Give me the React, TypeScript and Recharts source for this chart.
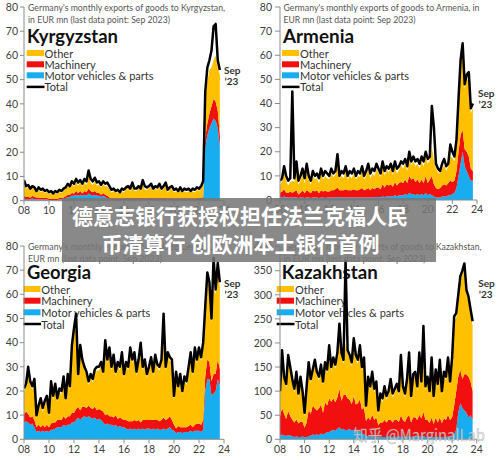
import React from "react";
import { ComposedChart, Area, Line, XAxis, YAxis } from "recharts";

// time axis: bimonthly observations from Jan 2008 to Sep 2023
const START_YEAR = 2008;
const STEP_MONTHS = 2;

const xTicks = [2008, 2010, 2012, 2014, 2016, 2018, 2020, 2022, 2024];
const xTickLabels = ["08", "10", "12", "14", "16", "18", "20", "22", "24"];
const smallTicks = [0, 10, 20, 30, 40, 50, 60, 70, 80];
const kzTicks = [0, 50, 100, 150, 200, 250, 300, 350, 400];

const seriesNames = ["Other", "Machinery", "Motor vehicles & parts", "Total"];
const COLORS = { other: "#FFC000", machinery: "#F20F0F", motor: "#18ADEE", total: "#000000" };

// ---------------- Kyrgyzstan ----------------
const kgTotal = [8.5,6,6.5,5,6,5.5, 4,5.5,4.5,5,4,4.5, 3.5,4,3,4,3.5,4.5, 4,5,5.5,7,6,8, 7,9,7.5,8.5,7,9, 8,12.5,9,8,9.5,7.5, 8,6.5,8,7,7.5,6, 4.5,5,4,4.5,3.5,5, 4.5,5.5,6,5,7.5,5, 5,6,5,8.5,6,5.5, 6,7,5,6,5.5,7, 5,6,7.5,4.5,5.5,6, 4.5,5,4,5.5,4,5, 4.5,5,4,5,4.5,5.5, 5,6,8,45,55,58, 62,72,73,58,54];
const kgMotor = [1,0.5,0.5,0.5,1,0.5, 0.5,0.5,0.5,0.5,0.5,0.5, 0.3,0.3,0.3,0.3,0.3,0.5, 0.5,0.5,1,1.5,1.5,2, 2,2.5,2,2.5,2,2.5, 2,3,2.5,2,2.5,2, 2,1.5,2,1.5,1,0.5, 0.3,0.3,0.4,0.3,0.3,0.3, 0.4,0.3,0.5,0.3,0.4,0.3, 0.4,0.3,0.5,0.3,0.4,0.3, 0.4,0.3,0.5,0.3,0.4,0.3, 0.4,0.3,0.5,0.3,0.4,0.3, 0.4,0.3,0.4,0.3,0.4,0.3, 0.4,0.3,0.4,0.3,0.4,0.3, 0.3,0.3,0.5,22,27,30, 32,34,33,30,22];
const kgMachinery = [1,1,1,0.8,1,1, 0.8,0.8,0.6,0.6,0.6,0.6, 0.5,0.5,0.5,0.5,0.5,0.6, 0.6,0.8,0.8,1,1,1.2, 1,1.5,1.2,1.5,1,1.5, 1.5,2,1.5,1.5,1.5,1.2, 1.2,1,1.2,1,1,0.8, 0.6,0.6,0.6,0.6,0.6,0.6, 0.6,0.7,0.8,0.6,0.8,0.7, 0.7,0.8,0.6,0.9,0.7,0.6, 0.7,0.8,0.6,0.7,0.6,0.8, 0.6,0.7,0.8,0.5,0.6,0.7, 0.5,0.6,0.5,0.6,0.5,0.6, 0.5,0.6,0.5,0.6,0.5,0.7, 0.8,0.8,1,4,5,6, 7,8,8,7,5];
const kgOther = [5,3.5,4,3,3.5,3, 2,3,2.5,3,2,2.5, 2,2.5,1.5,2.5,2,2.5, 2,3,3,3.5,3,3.5, 3,3.5,3,3.5,3,3.5, 3,5,3.5,3,4,3, 3.5,3,3.5,3.5,4,3.5, 2.5,3,2.5,2.5,2,3, 2.5,3.5,4,3,4.5,3, 3,4,3,5.5,3.5,3.5, 4,4.5,3,4,3.5,4.5, 3,4,5,2.5,3.5,4, 2.5,3,2.5,3.5,2.5,3, 2.5,3,2.5,3,2.5,3.5, 3,4,5,16,17,18, 16,16,19,18,25];

// ---------------- Armenia ----------------
const amTotal = [8,9,14,10,8,9, 45,9,16,8,10,13, 9,15,10,8,12,10, 11,9,13,10,12,11, 10,13,11,12,19,10, 12,11,14,10,12,11, 13,10,12,11,14,10, 12,15,11,13,12,15, 13,11,16,12,14,13, 15,12,16,13,14,16, 15,17,14,20,16,18, 16,17,15,18,16,20, 17,18,39,30,15,13, 12,15,17,14,15,23, 20,18,25,42,58,65, 48,52,53,38,40];
const amMotor = [1,1,1.5,1,1,1, 1,1,1,0.8,1,1, 0.8,1,1,0.8,1,1, 1,0.8,1,1,0.8,1, 1,1,1,1,1.2,1, 1,1,1,1,1,1, 1,1,1,1,1,1, 1,1,1,1,1,1.2, 1.2,1,1.5,1.2,1.5,1.5, 1.5,1.5,2,1.5,2,2, 2,2.5,2,3,2.5,2.5, 2,2.5,2,2.5,2,3, 2,2.5,2,1.5,1,1, 1,1.5,1.5,1.5,2,2, 2.5,3,5,10,15,20, 14,12,10,8,8];
const amMachinery = [2,2.5,3,2,2,2.5, 2,2.5,3,1.5,2,3, 2,3,2.5,2,3,2.5, 3,2,3,2.5,3,2.5, 2.5,3,3,3.5,4,3, 3,3,3.5,3,3,3, 3.5,3,3,3.5,4,3, 3.5,4,3,4,3.5,4, 4,3.5,5,4,5,4.5, 5,4,5.5,4.5,5,5.5, 5,6,5,7,6,6.5, 5.5,6,5,6,5,7, 5,6,8,5,4,3.5, 4,4.5,5,4.5,5,6, 5,5,7,10,12,9, 7,8,8,5,4];
const amOther = [3,4.5,7.5,5,3,4, 5,4,9,4,5,7, 4,8,5,3.5,6,5, 5,4,7,5,6,5.5, 5,7,5.5,6,10,5, 6,5,7.5,4.5,6,5, 6.5,4.5,6,5,7,4.5, 5.5,8,5,6,5.5,7.5, 6,5,7.5,5,6,5.5, 6.5,5,6.5,5,5.5,7, 6,6.5,5,8,6,7, 6.5,6.5,6,7.5,7,8, 8,8,12,10,8,7, 6,7,8,6,7,10, 10,8,11,20,28,32, 25,30,32,23,26];

// ---------------- Georgia ----------------
const geTotal = [21,23,30,24,22,25, 10,14,17,13,16,18, 11,24,18,23,17,21, 20,26,17,27,22,39, 46,52,27,39,33,30, 28,24,27,25,29,30, 30,32,28,41,33,38, 30,35,28,32,30,36, 27,32,30,38,33,36, 28,33,40,30,33,27, 30,34,28,35,31,30, 33,52,30,36,34,33, 18,28,22,27,20,26, 24,30,36,28,38,33, 38,34,40,55,69,65, 50,75,62,73,65];
const geMotor = [7,7.5,7,6,6.5,5, 3,3.5,3,3.5,3,3.5, 3,4,4,4.5,5,5, 5,6,5.5,6,6,7, 7,8,9,8,9,9.5, 9,9.5,9,8.5,9,8, 8.5,8,7,6,6.5,6, 6,5.5,6,5,5.5,5, 5,4.5,4,4.5,4,4.5, 4,4.5,4,4.5,4,4.5, 4.5,4,4.5,4,4.5,4, 4,4.5,4,4.5,5,4, 3.5,2.5,3,3,2.5,3, 3,3,3.5,3,3.5,3.5, 3.5,3,4,20,25,25, 18,19,20,25,22];
const geMachinery = [3.5,4,3.5,3,3,3, 2,2.5,2,2.5,2,2.5, 2,2.5,3,2.5,3,3, 3,3.5,3,3.5,3.5,4, 4,4.5,4.5,4,4.5,4, 4,4.5,4,4,4.5,4, 4,4,4.5,4,4,3.5, 3.5,3.5,4,3.5,3.5,3.5, 3,3.5,3.5,3,3.5,3.5, 3.5,3.5,3,3.5,4,3.5, 3.5,4,3.5,4,3.5,3.5, 4,4.5,4,4,4.5,4, 2.5,2,2.5,2,2.5,2, 2,2.5,2.5,2,2.5,3, 3,3,4,6,8,7, 6,8,7,8,7];
const geOther = [9,10,18,13.5,11,15.5, 3.5,6.5,10.5,5.5,9.5,10.5, 4.5,16,9.5,14.5,7.5,11.5, 10.5,15,7,16,11,26.5, 33.5,33,12,25.5,18,15, 13.5,8.5,12.5,11,14,16.5, 16,18.5,15,29.5,21,27, 19,24.5,16.5,22,19.5,26, 17.5,22.5,21,29,24,26.5, 19,23.5,31.5,20.5,23.5,17.5, 20.5,24.5,18.5,25.5,21.5,21, 23.5,30,20.5,26,23,23.5, 10.5,22,15,20.5,13.5,19.5, 17.5,23,28.5,21.5,30.5,25, 30,26.5,30.5,27.5,34,31, 24,36,33,38,34];

// ---------------- Kazakhstan ----------------
const kzTotal = [100,185,130,115,175,150, 125,105,140,95,130,100, 55,110,160,125,145,165, 140,130,155,120,160,145, 195,150,170,155,180,240, 180,165,370,185,175,160, 210,175,165,195,150,170, 70,130,110,140,105,120, 60,95,85,110,90,100, 125,95,105,115,100,175, 110,95,125,180,90,135, 140,110,180,120,235,110, 130,100,170,90,145,115, 165,100,140,130,170,120, 170,255,262,300,338,350, 365,310,296,270,245];
const kzMotor = [8,10,8,7,9,8, 6,5,6,5,5,6, 4,5,6,8,10,9, 10,9,12,10,12,15, 15,18,20,17,22,25, 20,22,18,20,22,18, 20,17,15,18,12,10, 8,6,5,6,5,5, 4,5,5,5,5,6, 5,5,6,5,6,5, 5,6,5,6,5,6, 6,5,6,5,7,5, 5,4,5,4,5,5, 5,4,5,5,6,5, 6,10,20,55,75,65, 60,55,45,50,40];
const kzMachinery = [40,55,45,35,50,40, 35,30,35,28,32,30, 20,30,55,45,60,55, 50,55,60,45,65,55, 70,60,65,60,65,80, 60,70,75,65,60,55, 70,55,60,65,50,55, 30,40,35,45,35,40, 25,30,30,35,30,35, 35,30,35,35,30,45, 35,30,40,45,30,40, 40,35,45,38,50,35, 35,30,40,28,40,30, 40,30,38,35,45,35, 40,60,80,75,70,60, 75,80,85,70,60];
const kzOther = [44,112,69,65,108,94, 76,62,91,54,85,56, 23,67,91,64,67,93, 72,58,75,57,75,67, 102,64,77,70,85,100, 92,65,107,92,85,79, 112,95,82,104,80,97, 24,76,62,81,57,67, 23,52,42,62,47,51, 77,52,56,67,56,117, 62,51,72,121,47,81, 86,62,121,69,170,62, 82,58,117,50,92,72, 112,58,89,82,111,72, 116,175,152,160,183,215, 220,165,156,140,135];

function buildData(motor: number[], machinery: number[], other: number[], total: number[]) {
  return total.map((t, i) => ({
    x: START_YEAR + (i * STEP_MONTHS) / 12,
    motor: motor[i],
    machinery: machinery[i],
    other: other[i],
    total: t,
  }));
}

const tickLabel = (v: number) => {
  const idx = xTicks.indexOf(v);
  return idx >= 0 ? xTickLabels[idx] : "";
};

type PanelProps = {
  data: any[];
  left: number;
  top: number;
  plotLeft: number;
  plotRight: number;
  plotTop: number;
  plotBottom: number;
  yMax: number;
  yTicks: number[];
  ySize: number;
  yMargin: number;
};

function Panel(p: PanelProps) {
  const W = 250;
  const H = 230;
  const xH = 20;
  const tickStyle = { fontSize: 10.5, fill: "#404040", fontFamily: "Lato, 'Open Sans', sans-serif" };
  return (
    <div style={{ position: "absolute", left: p.left, top: p.top, width: W, height: H, zIndex: 1 }}>
      <ComposedChart
        width={W}
        height={H}
        data={p.data}
        margin={{ top: p.plotTop, right: W - p.plotRight, bottom: H - p.plotBottom - xH, left: 0 }}
      >
        <XAxis
          type="number"
          dataKey="x"
          domain={[2008, 2024]}
          ticks={xTicks}
          interval={0}
          tickFormatter={tickLabel}
          height={xH}
          tick={tickStyle}
          tickSize={4}
          tickMargin={2}
          stroke="#8c8c8c"
          allowDataOverflow
        />
        <YAxis
          type="number"
          domain={[0, p.yMax]}
          ticks={p.yTicks}
          interval={0}
          width={p.plotLeft}
          tick={tickStyle}
          tickSize={p.ySize}
          tickMargin={p.yMargin}
          stroke="#8c8c8c"
          allowDataOverflow
        />
        <Area type="linear" dataKey="motor" stackId="s" fill={COLORS.motor} stroke="none" fillOpacity={1} isAnimationActive={false} />
        <Area type="linear" dataKey="machinery" stackId="s" fill={COLORS.machinery} stroke="none" fillOpacity={1} isAnimationActive={false} />
        <Area type="linear" dataKey="other" stackId="s" fill={COLORS.other} stroke="none" fillOpacity={1} isAnimationActive={false} />
        <Line type="linear" dataKey="total" stroke={COLORS.total} strokeWidth={2.5} strokeLinejoin="round" dot={false} isAnimationActive={false} />
      </ComposedChart>
    </div>
  );
}

type TextBlock = {
  line1: string;
  line2: string;
  l1: number;
  l2: number;
  tx: number;
  ty1: number;
  ty2: number;
  name: string;
  nameLen: number;
  nameX: number;
  nameBase: number;
  swX: number;
  swW: number;
  labX: number;
  legY: number[];
  sepX: number;
  sepY: number;
};

const blocks: TextBlock[] = [
  {
    line1: "Germany's monthly exports of goods to Kyrgyzstan,", l1: 197,
    line2: "in EUR mn (last data point: Sep 2023)", l2: 142,
    tx: 28, ty1: 7.5, ty2: 19.5,
    name: "Kyrgyzstan", nameLen: 91, nameX: 27, nameBase: 43,
    swX: 26.7, swW: 17.3, labX: 44.5, legY: [53, 64.3, 75.3, 86.9],
    sepX: 224, sepY: 70,
  },
  {
    line1: "Germany's monthly exports of goods to Armenia, in", l1: 196,
    line2: "EUR mn (last data point: Sep 2023)", l2: 132,
    tx: 283.5, ty1: 7.5, ty2: 19.5,
    name: "Armenia", nameLen: 71, nameX: 283, nameBase: 43,
    swX: 282, swW: 17, labX: 300, legY: [53, 64.3, 75.3, 86.9],
    sepX: 478, sepY: 93.3,
  },
  {
    line1: "Germany's monthly exports of goods to Georgia, in", l1: 194,
    line2: "EUR mn (last data point: Sep 2023)", l2: 134,
    tx: 28, ty1: 246.5, ty2: 258,
    name: "Georgia", nameLen: 64, nameX: 27, nameBase: 279,
    swX: 23.5, swW: 17, labX: 41.3, legY: [289, 300.7, 312.3, 324],
    sepX: 224, sepY: 283.3,
  },
  {
    line1: "Germany's monthly exports of goods to Kazakhstan,", l1: 198,
    line2: "in EUR mn (last data point: Sep 2023)", l2: 142,
    tx: 283.5, ty1: 246.7, ty2: 258,
    name: "Kazakhstan", nameLen: 96, nameX: 281.7, nameBase: 279,
    swX: 276.7, swW: 17.3, labX: 295, legY: [289, 300.7, 312.3, 324],
    sepX: 478.3, sepY: 283.3,
  },
];

const legendColors = [COLORS.other, COLORS.machinery, COLORS.motor];
const FONT = "Lato, 'Open Sans', sans-serif";

function TextLayer() {
  return (
    <svg width={500} height={460} style={{ position: "absolute", left: 0, top: 0, zIndex: 0 }}>
      {blocks.map((b, k) => (
        <g key={k} fontFamily={FONT}>
          <text x={b.tx} y={b.ty1} fontSize={9.5} fill="#555" dominantBaseline="central" textLength={b.l1} lengthAdjust="spacingAndGlyphs">{b.line1}</text>
          <text x={b.tx} y={b.ty2} fontSize={9.5} fill="#555" dominantBaseline="central" textLength={b.l2} lengthAdjust="spacingAndGlyphs">{b.line2}</text>
          <text x={b.nameX} y={b.nameBase} fontSize={18} fontWeight={700} fill="#111" textLength={b.nameLen} lengthAdjust="spacingAndGlyphs">{b.name}</text>
          {seriesNames.map((s, j) => (
            <g key={s}>
              {j < 3 ? (
                <rect x={b.swX} y={b.legY[j] - 3} width={b.swW} height={6} fill={legendColors[j]} />
              ) : (
                <line x1={b.swX} x2={b.swX + b.swW + 0.5} y1={b.legY[j]} y2={b.legY[j]} stroke="#000" strokeWidth={2.5} />
              )}
              <text x={b.labX} y={b.legY[j]} fontSize={11} fill="#333" dominantBaseline="central">{s}</text>
            </g>
          ))}
          <text x={b.sepX} y={b.sepY} fontSize={10} fontWeight={700} fill="#333" dominantBaseline="central">Sep</text>
          <text x={b.sepX + 0.5} y={b.sepY + 11} fontSize={10} fontWeight={700} fill="#333" dominantBaseline="central">’23</text>
        </g>
      ))}
    </svg>
  );
}

function Overlay() {
  return (
    <svg width={500} height={460} style={{ position: "absolute", left: 0, top: 0, zIndex: 2, pointerEvents: "none" }}>
      <rect x={62} y={198} width={374} height={64} fill="rgba(118,118,118,0.86)" />
      <text x={240} y={215} fontSize={21} fontWeight={700} fill="#fff" textAnchor="middle" dominantBaseline="central" fontFamily="'Noto Sans CJK SC', sans-serif">德意志银行获授权担任法兰克福人民</text>
      <text x={240.5} y={242.5} fontSize={21} fontWeight={700} fill="#fff" textAnchor="middle" dominantBaseline="central" fontFamily="'Noto Sans CJK SC', sans-serif">币清算行 创欧洲本土银行首例</text>
      <text x={353} y={434} fontSize={16} fill="rgba(235,235,235,0.75)" stroke="rgba(140,140,140,0.55)" strokeWidth={0.6} dominantBaseline="central" fontFamily="'Noto Sans CJK SC', sans-serif" textLength={132} lengthAdjust="spacingAndGlyphs">知乎 @MarginalLab</text>
    </svg>
  );
}

export default function App() {
  const kg = buildData(kgMotor, kgMachinery, kgOther, kgTotal);
  const am = buildData(amMotor, amMachinery, amOther, amTotal);
  const ge = buildData(geMotor, geMachinery, geOther, geTotal);
  const kz = buildData(kzMotor, kzMachinery, kzOther, kzTotal);
  return (
    <div style={{ position: "absolute", left: 0, top: 0, width: 500, height: 460, background: "#fff", overflow: "hidden" }}>
      <TextLayer />
      <Panel data={kg} left={0} top={0} plotLeft={24} plotRight={224} plotTop={7} plotBottom={200.7} yMax={80} yTicks={smallTicks} ySize={4} yMargin={2} />
      <Panel data={am} left={250} top={0} plotLeft={30} plotRight={227} plotTop={7} plotBottom={200} yMax={80} yTicks={smallTicks} ySize={5} yMargin={3} />
      <Panel data={ge} left={0} top={230} plotLeft={24} plotRight={224} plotTop={16} plotBottom={209.3} yMax={80} yTicks={smallTicks} ySize={4} yMargin={2} />
      <Panel data={kz} left={250} top={230} plotLeft={30} plotRight={226.7} plotTop={16.6} plotBottom={209.3} yMax={400} yTicks={kzTicks} ySize={5} yMargin={3} />
      <Overlay />
    </div>
  );
}
